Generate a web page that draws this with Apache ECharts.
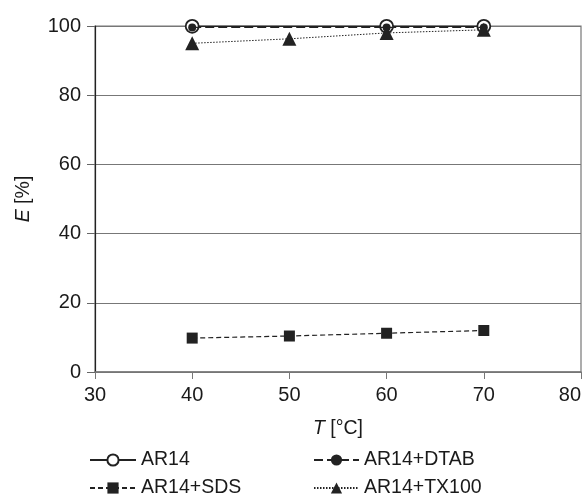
<!DOCTYPE html>
<html>
<head>
<meta charset="utf-8">
<script src="https://cdn.jsdelivr.net/npm/echarts@6/dist/echarts.min.js"></script>
</head>
<body style="margin:0">
<div id="chart" style="width:582px;height:497px;"></div>
<script>
// temperature / extraction data
var temps = [40, 50, 60, 70];
var ar14 = [[40, 99.9], [60, 99.9], [70, 99.9]];
var ar14Dtab = [[40, 99.6], [60, 99.6], [70, 99.6]];
var ar14Sds = [9.8, 10.4, 11.2, 12.0];
var ar14Tx100 = [95.0, 96.3, 98.0, 98.9];

var font = 'Liberation Sans, Arial, sans-serif';
var ink = '#1a1a1a';
var fs = 20;
var lfs = 19.5;

function pairs(vals) {
    return temps.map(function (t, i) { return [t, vals[i]]; });
}

var chart = echarts.init(document.getElementById('chart'));

var legendBase = {
    itemHeight: 14,
    padding: 0,
    textStyle: { fontFamily: font, fontSize: lfs, color: ink },
    selectedMode: false
};

var option = {
    animation: false,
    grid: {
        left: 95, right: 1, top: 26, bottom: 125, outerBoundsMode: 'none',
        show: true, borderColor: '#777', borderWidth: 1.2, backgroundColor: 'transparent'
    },
    legend: [
        Object.assign({ data: ['AR14'], left: 89, top: 450, itemWidth: 46 }, legendBase),
        Object.assign({ data: ['AR14+DTAB'], left: 313, top: 450, itemWidth: 45 }, legendBase),
        Object.assign({ data: ['AR14+SDS'], left: 89, top: 478, itemWidth: 46 }, legendBase),
        Object.assign({ data: ['AR14+TX100'], left: 313, top: 478, itemWidth: 45 }, legendBase)
    ],
    xAxis: {
        type: 'value',
        min: 30, max: 80, interval: 10,
        name: '{i|T} [°C]',
        nameLocation: 'middle',
        nameGap: 47,
        nameTextStyle: {
            fontFamily: font, fontSize: lfs, color: ink,
            rich: { i: { fontStyle: 'italic', fontFamily: font, fontSize: lfs, color: ink } }
        },
        axisLine: { show: true, lineStyle: { color: '#777', width: 1.5 } },
        axisTick: { show: true, inside: false, length: 7, lineStyle: { color: '#777' } },
        axisLabel: { fontFamily: font, fontSize: fs, color: ink, margin: 13, alignMaxLabel: 'right' },
        splitLine: { show: false }
    },
    yAxis: {
        type: 'value',
        min: 0, max: 100, interval: 20,
        name: '{i|E} [%]',
        nameLocation: 'middle',
        nameGap: 61,
        nameRotate: 90,
        nameTextStyle: {
            fontFamily: font, fontSize: lfs, color: ink,
            rich: { i: { fontStyle: 'italic', fontFamily: font, fontSize: lfs, color: ink } }
        },
        axisLine: { show: true, onZero: false, lineStyle: { color: '#222', width: 1.2 } },
        axisTick: { show: true, length: 8, lineStyle: { color: '#666' } },
        axisLabel: { fontFamily: font, fontSize: fs, color: ink, margin: 14 },
        splitLine: { show: true, lineStyle: { color: '#777', width: 1.2 } }
    },
    series: [
        {
            name: 'AR14', type: 'line', data: ar14,
            symbol: 'circle', symbolSize: 13,
            itemStyle: { color: '#fff', borderColor: '#222', borderWidth: 1.8 },
            lineStyle: { color: '#222', width: 1.5, type: 'solid' },
            z: 2
        },
        {
            name: 'AR14+DTAB', type: 'line', data: ar14Dtab,
            symbol: 'circle', symbolSize: 8,
            itemStyle: { color: '#222', borderWidth: 0 },
            lineStyle: { color: '#222', width: 1.2, type: [9, 4] },
            z: 3
        },
        {
            name: 'AR14+SDS', type: 'line', data: pairs(ar14Sds),
            symbol: 'rect', symbolSize: 11,
            itemStyle: { color: '#222', borderWidth: 0 },
            lineStyle: { color: '#222', width: 1.2, type: [5, 3] },
            z: 3
        },
        {
            name: 'AR14+TX100', type: 'line', data: pairs(ar14Tx100),
            symbol: 'triangle', symbolSize: 14,
            itemStyle: { color: '#222', borderWidth: 0 },
            lineStyle: { color: '#222', width: 1, type: [1.5, 1.5] },
            z: 4
        }
    ]
};

chart.setOption(option);
</script>
</body>
</html>
